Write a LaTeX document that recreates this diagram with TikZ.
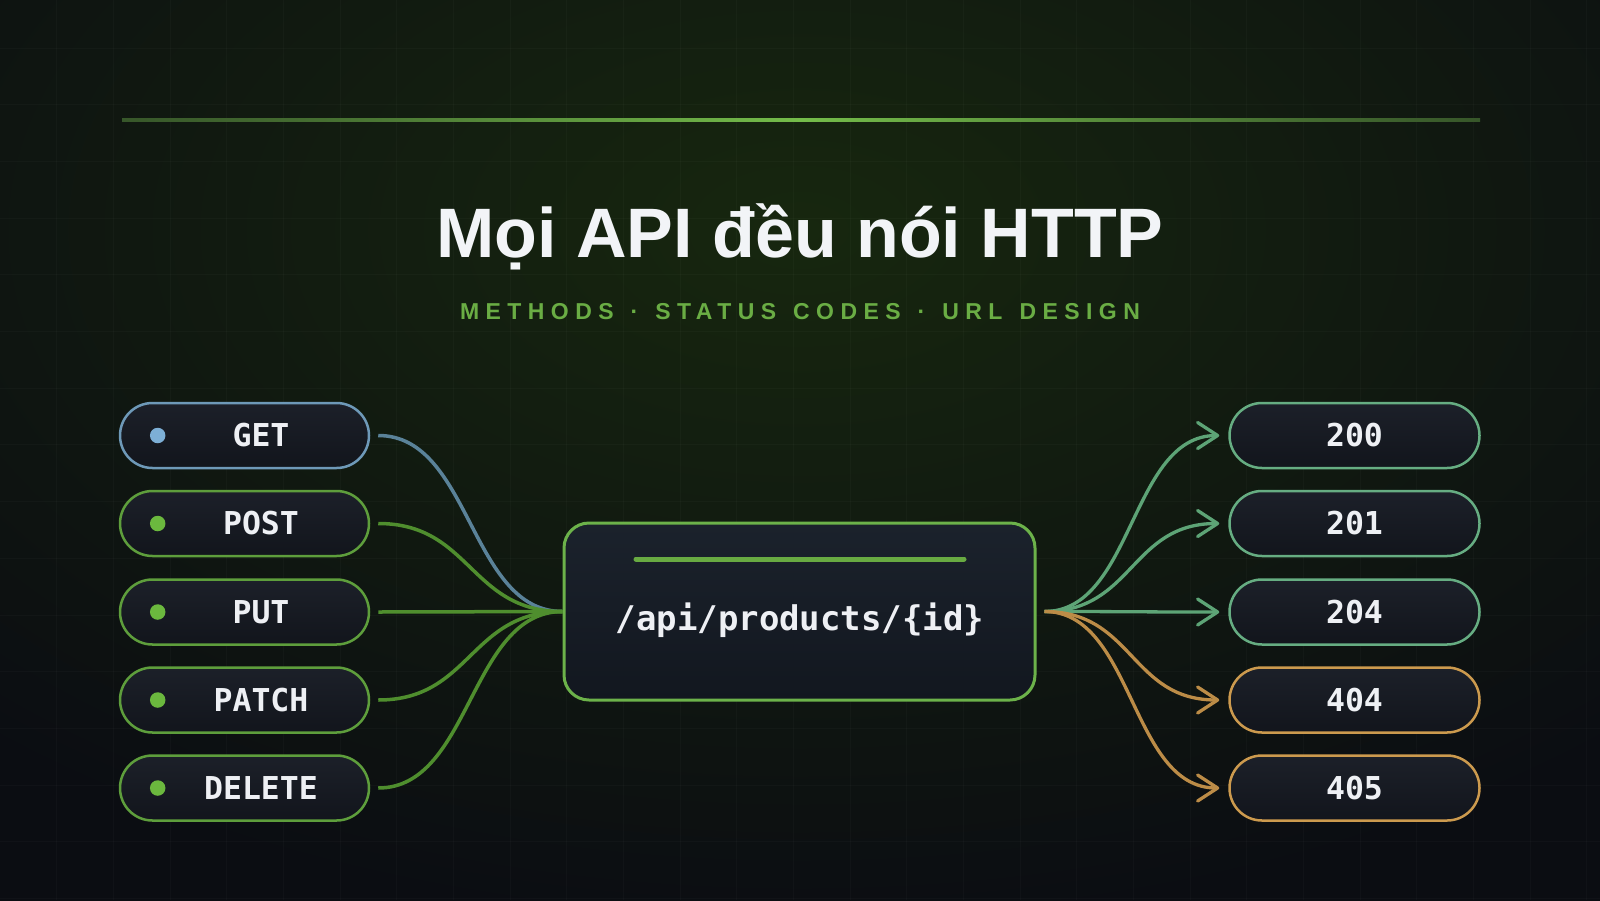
\documentclass[tikz,border=0pt]{standalone}
\usepackage{fontspec}
\setmainfont{Liberation Sans}
\newfontfamily\monof{DejaVu Sans Mono}
\newfontfamily\subf[LetterSpace=28]{Liberation Sans}
\usetikzlibrary{arrows.meta}
\definecolor{bgbase}{HTML}{0B0D12}
\definecolor{glowA}{HTML}{17270F}
\definecolor{glowB}{HTML}{111A10}
\definecolor{lineA}{HTML}{74BC4A}
\definecolor{titlec}{HTML}{F2F4F7}
\definecolor{subc}{HTML}{6AAD44}
\definecolor{pilltop}{HTML}{1C2029}
\definecolor{pillbot}{HTML}{12151C}
\definecolor{hubtop}{HTML}{1B222C}
\definecolor{hubbot}{HTML}{12171F}
\definecolor{getc}{HTML}{6E99B8}
\definecolor{getdot}{HTML}{7DAFD6}
\definecolor{getline}{HTML}{5A8299}
\definecolor{grc}{HTML}{5E9E3C}
\definecolor{grdot}{HTML}{6BB83E}
\definecolor{grline}{HTML}{4F8E2E}
\definecolor{okc}{HTML}{66AD82}
\definecolor{okline}{HTML}{5DA476}
\definecolor{errc}{HTML}{CC9A4E}
\definecolor{errline}{HTML}{BC8C47}
\definecolor{hubc}{HTML}{6CB24A}
\definecolor{barc}{HTML}{68AA42}
\definecolor{textc}{HTML}{EEF0F4}
\pgfdeclareradialshading{glowsh}{\pgfpoint{0bp}{0bp}}{color(0bp)=(glowA); color(12bp)=(glowB); color(25bp)=(bgbase); color(50bp)=(bgbase)}
\pgfdeclarehorizontalshading{hlsh}{100bp}{color(0bp)=(bgbase); color(12bp)=(lineA!18!bgbase); color(32bp)=(lineA!55!bgbase); color(50bp)=(lineA); color(68bp)=(lineA!55!bgbase); color(88bp)=(lineA!18!bgbase); color(100bp)=(bgbase)}
\begin{document}
\begin{tikzpicture}[x=1pt,y=-1pt,
  pill/.style={draw, line width=2.5pt, rounded corners=32.5pt, minimum width=249pt, minimum height=65pt, inner sep=0pt, top color=pilltop, bottom color=pillbot},
  pilltext/.style={text=textc, inner sep=0pt, font=\monof\bfseries\fontsize{31.5}{36}\selectfont},
  dotn/.style={circle, inner sep=0pt, minimum size=15.5pt},
  conn/.style={line width=3.5pt},
  arr/.style={line width=3.3pt, -{Straight Barb[length=20pt,width=26pt,line cap=round,line join=round]}},
  gridl/.style={draw=white, opacity=0.022, line width=1pt}]
\useasboundingbox (0,0) rectangle (1600,900);
\fill[bgbase] (0,0) rectangle (1600,900);
\begin{scope}
  \clip (0,0) rectangle (1600,900);
  \shade[shading=glowsh] (-400,-470) rectangle (2000,930);
  \foreach \i in {1,...,28} {\draw[gridl] (\i*56.67,0) -- (\i*56.67,900);}
  \foreach \j in {0,...,15} {\draw[gridl] (0,48.3+\j*56.67) -- (1600,48.3+\j*56.67);}
\end{scope}
% top line
\shade[shading=hlsh] (122,118.5) rectangle (1480,121.5);
% title
\node[anchor=base, text=titlec, inner sep=0pt, font=\bfseries\fontsize{70}{80}\selectfont] (title) at (800,257) {Mọi API đều nói HTTP};
\node[anchor=base, text=subc, inner sep=0pt, font=\subf\bfseries\fontsize{23}{28}\selectfont] (sub) at (800,319.5) {\spaceskip=17pt\relax METHODS · STATUS CODES · URL DESIGN};
% hub
\node[draw=hubc, line width=3pt, rounded corners=25pt, minimum width=471pt, minimum height=177pt, top color=hubtop, bottom color=hubbot] (hub) at (799.5,611.5) {};
\draw[barc, line width=5pt, line cap=round] ([xshift=-163.5pt,yshift=52.5pt]hub.center) coordinate (barl) -- ([xshift=164.5pt,yshift=52.5pt]hub.center) coordinate (barr);
\node[text=textc, inner sep=0pt, font=\monof\bfseries\fontsize{34}{40}\selectfont] (path) at (800,620) {/api/products/\{id\}};
% methods
\foreach \n/\t/\y/\bc/\dc/\lc in {get/GET/435.5/getc/getdot/getline, post/POST/523.5/grc/grdot/grline, put/PUT/612/grc/grdot/grline, patch/PATCH/700/grc/grdot/grline, del/DELETE/788/grc/grdot/grline} {
  \node[pill, draw=\bc] (\n) at (244.5,\y) {};
  \node[dotn, fill=\dc] (\n-dot) at (157.7,\y) {};
  \node[pilltext] (\n-t) at (261,\y) {\t};
  \draw[conn, draw=\lc] ([xshift=8pt]\n.east) .. controls +(93,0) and +(-93,0) .. (hub.west);
}
% status codes
\foreach \n/\t/\y/\bc/\lc in {s200/200/435.5/okc/okline, s201/201/523.5/okc/okline, s204/204/612/okc/okline, s404/404/700/errc/errline, s405/405/788/errc/errline} {
  \node[pill, minimum width=250pt, draw=\bc] (\n) at (1354.5,\y) {};
  \node[pilltext] (\n-t) at (1354.5,\y) {\t};
  \draw[arr, draw=\lc] ([xshift=8pt]hub.east) .. controls +(89,0) and +(-89,0) .. ([xshift=-9pt]\n.west);
}
\end{tikzpicture}
\end{document}
